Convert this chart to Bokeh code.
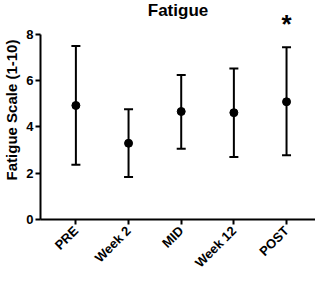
from bokeh.plotting import figure
from bokeh.models import ColumnDataSource, Whisker, FixedTicker, Range1d, Label
from bokeh.embed import file_html
from bokeh.resources import INLINE

title_text = "Fatigue"
categories = ["PRE", "Week 2", "MID", "Week 12", "POST"]
means = [4.92, 3.29, 4.66, 4.61, 5.08]
upper = [7.49, 4.76, 6.24, 6.52, 7.43]
lower = [2.36, 1.83, 3.05, 2.70, 2.77]
y_ticks = [0, 2, 4, 6, 8]
sig_label = "*"
sig_index = 4
sig_y = 8.45

xs = list(range(len(categories)))
src = ColumnDataSource(dict(x=xs, mean=means, upper=upper, lower=lower))

FONT = "Liberation Sans"
X0, X1 = -0.672, 4.55
Y0, Y1 = 0, 9.45

p = figure(width=315, height=278, output_backend="svg", toolbar_location=None,
           x_range=Range1d(X0, X1), y_range=Range1d(Y0, Y1),
           min_border_left=0, min_border_right=0,
           min_border_top=0, min_border_bottom=0)

p.outline_line_color = None
p.xgrid.visible = False
p.ygrid.visible = False
p.background_fill_color = "white"
p.border_fill_color = "white"

# chart title, centred over the plot area
p.add_layout(Label(x=(X0 + X1) / 2 + 0.0, y=Y1, text=title_text, text_align="center",
                   text_baseline="top", text_font=FONT, text_font_style="bold",
                   text_font_size="17px", text_color="black"))

w = Whisker(source=src, base="x", upper="upper", lower="lower",
            line_color="black", line_width=2)
w.upper_head.size = 9
w.lower_head.size = 9
w.upper_head.line_width = 2
w.lower_head.line_width = 2
w.upper_head.line_color = "black"
w.lower_head.line_color = "black"
p.add_layout(w)

p.scatter("x", "mean", source=src, size=8, color="black")

star = Label(x=sig_index, y=sig_y, text=sig_label, text_align="center",
             text_baseline="middle", text_font=FONT, text_font_style="bold",
             text_font_size="26px", text_color="black")
p.add_layout(star)

# y axis
ya = p.yaxis[0]
ya.ticker = FixedTicker(ticks=y_ticks)
ya.bounds = (0, 8)
ya.axis_label = "Fatigue Scale (1-10)"
ya.axis_label_text_font = FONT
ya.axis_label_text_font_style = "bold"
ya.axis_label_text_font_size = "15px"
ya.axis_label_text_color = "black"
ya.axis_label_standoff = 3
ya.major_label_text_font = FONT
ya.major_label_text_font_style = "bold"
ya.major_label_text_font_size = "13px"
ya.major_label_text_color = "black"
ya.major_label_standoff = 2
ya.axis_line_width = 2
ya.axis_line_color = "black"
ya.major_tick_line_width = 2
ya.major_tick_line_color = "black"
ya.major_tick_out = 5
ya.major_tick_in = 0
ya.minor_tick_line_color = None

# x axis
xa = p.xaxis[0]
xa.ticker = FixedTicker(ticks=xs)
xa.major_label_overrides = {i: c for i, c in enumerate(categories)}
xa.major_label_orientation = 0.785398
xa.major_label_text_font = FONT
xa.major_label_text_font_style = "bold"
xa.major_label_text_font_size = "13px"
xa.major_label_text_line_height = 0.9
xa.major_label_text_color = "black"
xa.major_label_standoff = 4
xa.axis_line_width = 2
xa.axis_line_color = "black"
xa.major_tick_line_width = 2
xa.major_tick_line_color = "black"
xa.major_tick_out = 5
xa.major_tick_in = 0
xa.minor_tick_line_color = None

open("out.html", "w").write(file_html(p, INLINE))
